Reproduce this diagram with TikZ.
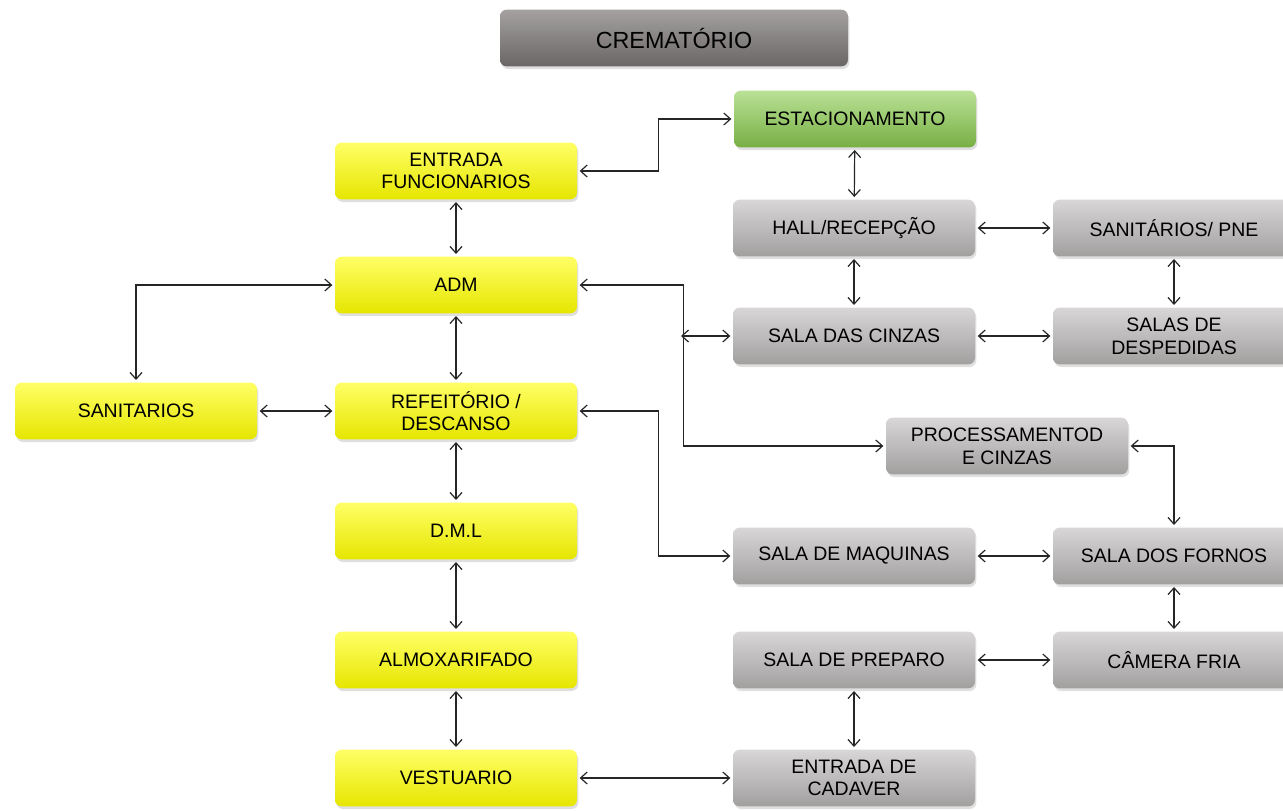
\documentclass[tikz,border=0pt]{standalone}
\usepackage{fontspec}
\setmainfont{Liberation Sans}
\usetikzlibrary{arrows.meta,shadows}
\definecolor{cyellow}{RGB}{255,255,0}
\definecolor{cgray}{RGB}{190,187,187}
\definecolor{cdark}{RGB}{125,120,120}
\definecolor{cgreen}{RGB}{140,206,80}
\tikzset{x=0.75pt,y=-0.75pt,
	room/.style={
		rounded corners=5pt,
		minimum width=181.5pt,
		minimum height=42.5pt,
		align=center,
		font=\fontsize{14.6}{17}\selectfont,
		drop shadow={shadow xshift=1pt,shadow yshift=-2pt,opacity=0.25},
		outer sep=2pt
	},
	staff/.style={room,
		top color=cyellow!60!white,
		middle color=cyellow,
		bottom color=cyellow!90!black
	},
	public/.style={room,
		top color=cgray!60!white,
		middle color=cgray,
		bottom color=cgray!85!black
	},
	park/.style={room,
		top color=cgreen!60!white,
		middle color=cgreen,
		bottom color=cgreen!85!black
	},
	title/.style={room,
		minimum width=261pt,
		font=\fontsize{17.5}{20}\selectfont,
		top color=cdark!70!white,
		middle color=cdark,
		bottom color=cdark!85!black
	},
	link/.style={<->,>={Straight Barb[length=5pt,width=9pt]},
		line width=0.9pt,draw=black!85}
}
\begin{document}
\begin{tikzpicture}
	\useasboundingbox (0,0) rectangle (1283,811);
	\node[title] (crem) at (674,38) {CREMATÓRIO};
	% staff side
	\node[staff] (entf) at (456,171) {ENTRADA\\FUNCIONARIOS};
	\node[staff] (adm) at (456,285) {ADM};
	\node[staff] (sanit) at (136,411) {SANITARIOS};
	\node[staff] (refeit) at (456,411) {REFEITÓRIO /\\DESCANSO};
	\node[staff] (dml) at (456,531) {D.M.L};
	\node[staff] (almox) at (456,660) {ALMOXARIFADO};
	\node[staff] (vest) at (456,778) {VESTUARIO};
	% public and technical side
	\node[park] (estac) at (855,119) {ESTACIONAMENTO};
	\node[public] (hall) at (854,228) {HALL/RECEPÇÃO};
	\node[public] (sanpne) at (1174,228) {SANITÁRIOS/ PNE};
	\node[public] (cinzas) at (854,336) {SALA DAS CINZAS};
	\node[public] (desp) at (1174,336) {SALAS DE\\DESPEDIDAS};
	\node[public] (proc) at (1007,446) {PROCESSAMENTOD\\E CINZAS};
	\node[public] (maq) at (854,556) {SALA DE MAQUINAS};
	\node[public] (fornos) at (1174,556) {SALA DOS FORNOS};
	\node[public] (prep) at (854,660) {SALA DE PREPARO};
	\node[public] (fria) at (1174,660) {CÂMERA FRIA};
	\node[public] (cad) at (854,778) {ENTRADA DE\\CADAVER};
	\coordinate (jc) at (681,336);

	\draw[link] (entf.east) -- ++(79,0) |- (estac.west);
	\draw[link] (entf) -- (adm);
	\draw[link] (adm.west) -| (sanit.north);
	\draw[link] (adm) -- (refeit);
	\draw[link] (sanit) -- (refeit);
	\draw[link] (refeit) -- (dml);
	\draw[link] (dml) -- (almox);
	\draw[link] (almox) -- (vest);
	\draw[link] (vest) -- (cad);
	\draw[link] (adm.east) -- ++(104,0) |- (proc.west);
	\draw[link] (jc) -- (cinzas.west);
	\draw[link] (refeit.east) -- ++(79,0) |- (maq.west);
	\draw[link] (estac) -- (hall);
	\draw[link] (hall) -- (sanpne);
	\draw[link] (hall) -- (cinzas);
	\draw[link] (sanpne) -- (desp);
	\draw[link] (cinzas) -- (desp);
	\draw[link] (proc.east) -| (fornos.north);
	\draw[link] (maq) -- (fornos);
	\draw[link] (fornos) -- (fria);
	\draw[link] (prep) -- (fria);
	\draw[link] (prep) -- (cad);
\end{tikzpicture}
\end{document}
